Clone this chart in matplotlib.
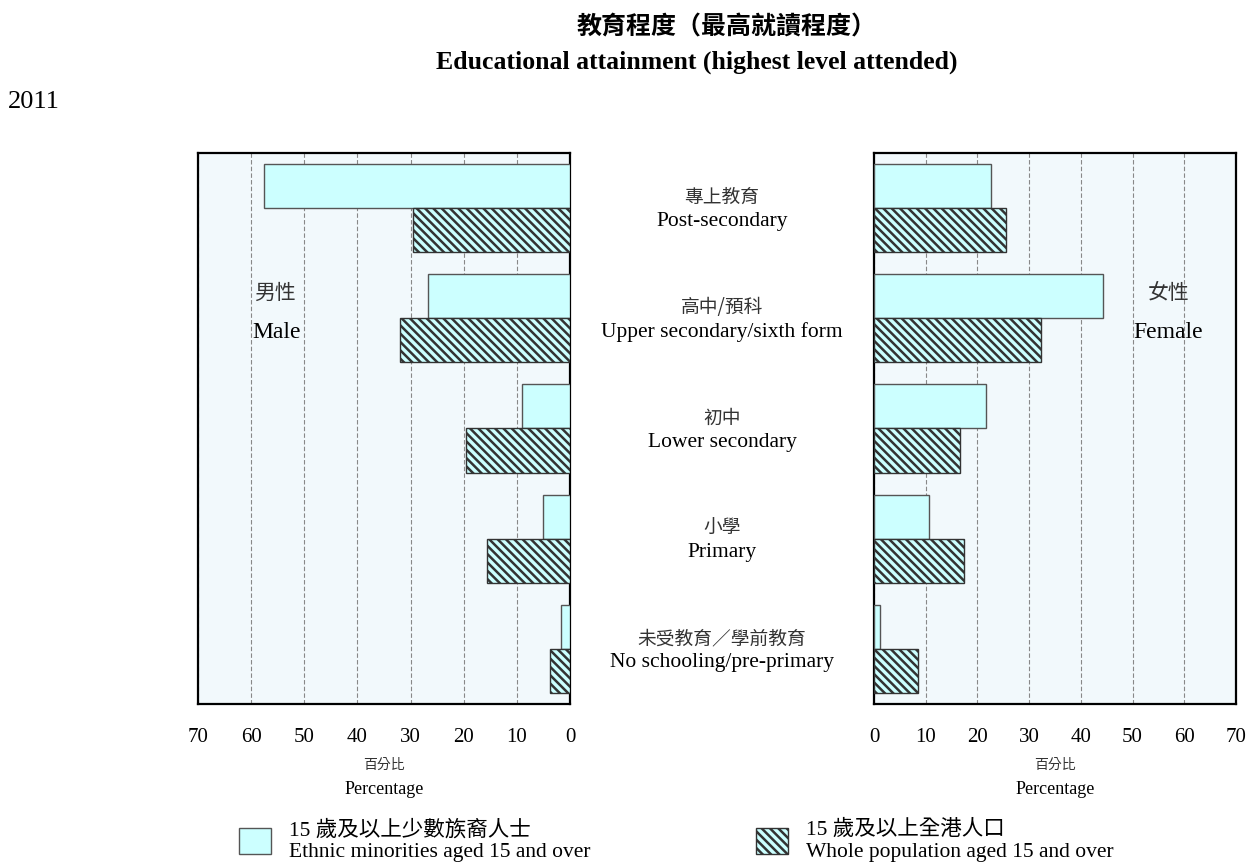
import matplotlib
matplotlib.use("Agg")
import matplotlib.pyplot as plt
from matplotlib.transforms import blended_transform_factory
import numpy as np

# data (percent)
cats_zh = ["專上教育", "高中/預科", "初中", "小學", "未受教育／學前教育"]
cats_en = ["Post-secondary", "Upper secondary/sixth form", "Lower secondary", "Primary", "No schooling/pre-primary"]
male_em = [57.6, 26.8, 9.0, 5.1, 1.6]
male_all = [29.5, 31.9, 19.6, 15.6, 3.8]
female_em = [22.6, 44.2, 21.6, 10.6, 1.2]
female_all = [25.5, 32.3, 16.6, 17.4, 8.5]
ticks = [0, 10, 20, 30, 40, 50, 60, 70]
leg_em = "15 歲及以上少數族裔人士\nEthnic minorities aged 15 and over"
leg_all = "15 歲及以上全港人口\nWhole population aged 15 and over"

SERIF = ["Liberation Serif", "Noto Sans CJK TC"]
CJK = ["Noto Sans CJK TC", "Liberation Serif"]
plt.rcParams['hatch.color'] = '#333333'
plt.rcParams['hatch.linewidth'] = 1.8

fig = plt.figure(figsize=(12.51, 8.66), dpi=100)
ax1 = fig.add_axes([198/1251, 1-704/866, 372/1251, 551/866])
ax2 = fig.add_axes([874/1251, 1-704/866, 362/1251, 551/866])

y = np.arange(len(cats_en))
h = 0.4
fill = '#CCFFFF'
edge = '#555555'

for ax, em, al in [(ax1, male_em, male_all), (ax2, female_em, female_all)]:
    ax.set_facecolor('#F2F9FC')
    b1 = ax.barh(y - h/2, em, height=h, color=fill, edgecolor=edge, linewidth=1.0, zorder=3)
    b2 = ax.barh(y + h/2, al, height=h, color=fill, edgecolor='#333333', linewidth=1.0,
                 hatch='\\\\\\\\', zorder=3)
    ax.set_ylim(4.5, -0.5)
    ax.set_xlim(0, 70)
    ax.set_xticks(ticks)
    ax.set_xticklabels([str(t) for t in ticks], family=SERIF, fontsize=15)
    ax.set_yticks([])
    ax.tick_params(axis='x', length=0, pad=17)
    ax.xaxis.grid(True, linestyle=(0, (4, 2)), color='#888888', linewidth=0.8, zorder=1)
    for s in ax.spines.values():
        s.set_linewidth(1.6)
        s.set_color('black')
    ax.text(0.5, -(765-704)/551, "百分比", transform=ax.transAxes, ha='center', va='center',
            family=CJK, fontsize=10, color='#333333')
    ax.text(0.5, -(789-704)/551, "Percentage", transform=ax.transAxes, ha='center', va='center',
            family=SERIF, fontsize=13)

ax1.invert_xaxis()

# gender labels
ax1.text(0.208, 1-(293-153)/551, "男性", transform=ax1.transAxes, family=CJK, fontsize=15,
         color='#333333', ha='center', va='center')
ax1.text(0.210, 1-(333-153)/551, "Male", transform=ax1.transAxes, family=SERIF, fontsize=17,
         ha='center', va='center')
ax2.text(0.813, 1-(293-153)/551, "女性", transform=ax2.transAxes, family=CJK, fontsize=15,
         color='#333333', ha='center', va='center')
ax2.text(0.812, 1-(333-153)/551, "Female", transform=ax2.transAxes, family=SERIF, fontsize=17,
         ha='center', va='center')

# category labels in the middle
tr = blended_transform_factory(fig.transFigure, ax1.transData)
for i in range(len(cats_en)):
    fig.text(722/1251, y[i] - 0.095, cats_zh[i], transform=tr, ha='center', va='center',
             family=CJK, fontsize=13.5, color='#333333')
    fig.text(722/1251, y[i] + 0.125, cats_en[i], transform=tr, ha='center', va='center',
             family=SERIF, fontsize=15.5)

# titles
fig.text(727/1251, 1-27/866, "教育程度（最高就讀程度）", ha='center', va='center',
         family=CJK, fontsize=18, fontweight='bold')
fig.text(697/1251, 1-62/866, "Educational attainment (highest level attended)", ha='center',
         va='center', family=SERIF, fontsize=18.5, fontweight='bold')
fig.text(8/1251, 1-102/866, "2011", ha='left', va='center', family=SERIF, fontsize=19)

# legends
leg1 = fig.legend([b1], [leg_em], loc='center left', bbox_to_anchor=(239/1251, 1-841/866),
                  frameon=False, prop={'family': SERIF, 'size': 15.5}, handlelength=1.5,
                  handleheight=1.5, handletextpad=0.8, borderaxespad=0, borderpad=0)
leg2 = fig.legend([b2], [leg_all], loc='center left', bbox_to_anchor=(756/1251, 1-841/866),
                  frameon=False, prop={'family': SERIF, 'size': 15.5}, handlelength=1.5,
                  handleheight=1.5, handletextpad=0.8, borderaxespad=0, borderpad=0)

fig.savefig("out.png", dpi=100)
